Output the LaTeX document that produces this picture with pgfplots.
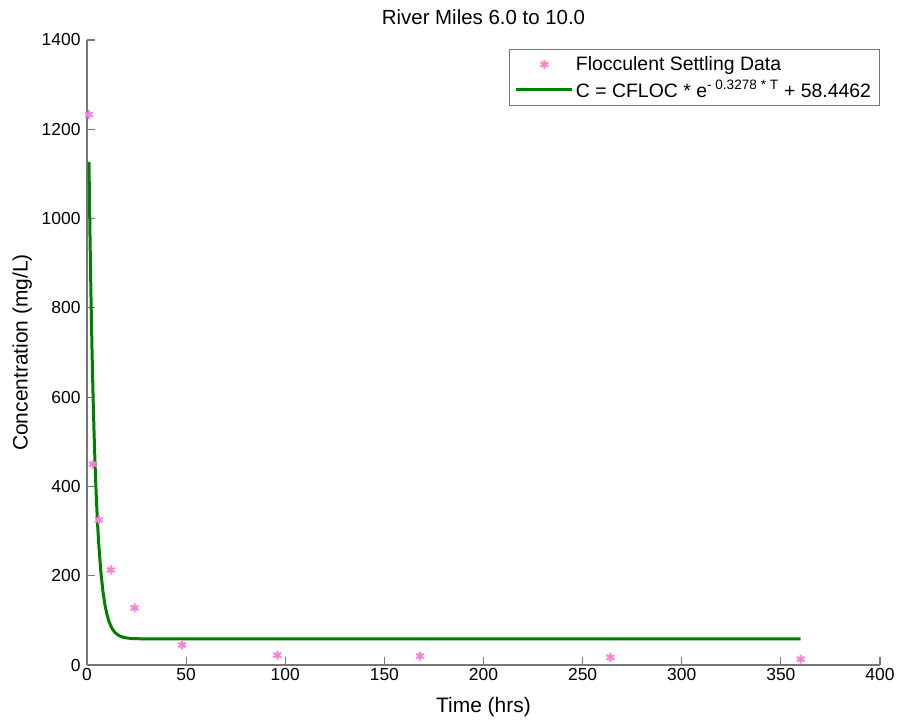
\documentclass[border=0pt]{standalone}
\usepackage{pgfplots}
\pgfplotsset{compat=1.18}
\usepackage{fontspec}
\setmainfont{Liberation Sans}
\definecolor{fitgreen}{HTML}{008000}
\definecolor{datapink}{HTML}{FF7FD6}
\definecolor{axgray}{HTML}{777777}

\begin{document}
\begin{tikzpicture}
\useasboundingbox (0,0) rectangle (899bp,722bp);
\begin{axis}[
  at={(87bp,57bp)}, anchor=south west,
  scale only axis, width=793bp, height=625bp,
  xmin=0, xmax=400, ymin=0, ymax=1400,
  xtick={0,50,...,400}, ytick={0,200,...,1400},
  axis lines=left, axis line style={-, axgray, line width=1.3pt},
  tick align=inside, major tick length=8bp,
  tick style={axgray, line width=1.2pt},
  /pgf/number format/assume math mode=true,
  /pgf/number format/1000 sep={},
  ticklabel style={font=\fontsize{17.5}{20}\selectfont},
  yticklabel style={xshift=-3bp},
  label style={font=\fontsize{21}{24}\selectfont},
  title style={font=\fontsize{20.5}{24}\selectfont, yshift=6bp},
  title={River Miles 6.0 to 10.0},
  xlabel={Time (hrs)}, ylabel={Concentration (mg/L)},
  xlabel style={yshift=-10bp}, ylabel style={yshift=3bp},
  legend style={at={(0.999,0.985)}, anchor=north east, draw=axgray,
    font=\fontsize{19.5}{22}\selectfont, inner xsep=6bp, inner ysep=5bp, row sep=4bp},
  legend cell align=left,
]
\addplot[only marks, datapink, mark=asterisk, mark size=4.5bp, line width=2pt,
  legend image code/.code={\draw[mark repeat=2,mark phase=2] plot coordinates {(0bp,0bp)(28bp,0bp)(56bp,0bp)};}]
  coordinates {(1,1233)(3,450)(6,325)(12,213)(24,128)(48,45)(96,22)(168,20)(264,17)(360,13)};
\addlegendentry{Flocculent Settling Data}
\addplot[fitgreen, line width=3bp,
  legend image code/.code={\draw (0bp,0bp) -- (56bp,0bp);}]
  coordinates {(1,1127)(1.5,965.4)(2,828.3)(2.5,711.9)(3,613.2)(3.5,529.3)(4,458.1)
  (4.5,397.7)(5,346.4)(5.5,302.9)(6,265.9)(7,208.0)
  (8,166.2)(9,136.1)(10,114.4)(11,98.7)(12,87.5)(13,79.4)(14,73.5)(15,69.3)
  (16,66.3)(17,64.2)(18,62.5)(19,61.5)(20,60.6)(22,59.5)(25,58.9)(30,58.5)(360,58.45)};
\addlegendentry{C = CFLOC * e\textsuperscript{- 0.3278 * T} + 58.4462}
\end{axis}
\end{tikzpicture}
\end{document}
